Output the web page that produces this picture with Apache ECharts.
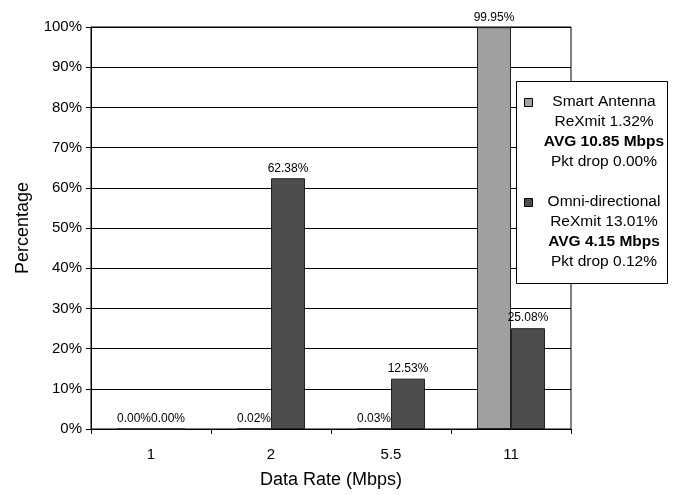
<!DOCTYPE html>
<html><head><meta charset="utf-8">
<script src="https://cdn.jsdelivr.net/npm/echarts@6/dist/echarts.min.js"></script>
<style>html,body{margin:0;padding:0;background:#fff}#c{width:673px;height:495px}</style>
</head><body><div id="c"></div>
<script>
var categories = ['1', '2', '5.5', '11'];
var smartAntenna = [0.00, 0.02, 0.03, 99.95];
var omniDirectional = [0.00, 62.38, 12.53, 25.08];
var yTicks = [0, 10, 20, 30, 40, 50, 60, 70, 80, 90, 100];
var legendSmart = ['Smart Antenna', 'ReXmit 1.32%', 'AVG 10.85 Mbps', 'Pkt drop 0.00%'];
var legendOmni = ['Omni-directional', 'ReXmit 13.01%', 'AVG 4.15 Mbps', 'Pkt drop 0.12%'];

var FONT = 'Liberation Sans, Arial, sans-serif';
var chart = echarts.init(document.getElementById('c'));

function legendBlock(lines, color, top) {
  var els = [{
    type: 'rect', z: 101, shape: {x: 524.5, y: top - 3.5, width: 8, height: 8},
    style: {fill: color, stroke: '#000', lineWidth: 1}
  }];
  lines.forEach(function (t, i) {
    els.push({
      type: 'text', z: 101, x: 604, y: top + i * 19.8,
      style: {text: t, fill: '#000', font: (i === 2 ? 'bold ' : '') + '15.5px ' + FONT,
        textAlign: 'center', textVerticalAlign: 'middle'}
    });
  });
  return els;
}

var labelOpt = {show: true, position: 'top', distance: 4, fontSize: 12, fontFamily: FONT, color: '#000',
  formatter: function (p) { return p.value.toFixed(2) + '%'; }};

chart.setOption({
  animation: false,
  grid: {left: 91, right: 102, top: 27, bottom: 66, show: true, borderColor: '#000', borderWidth: 1},
  xAxis: {
    type: 'category', data: categories,
    name: 'Data Rate (Mbps)', nameLocation: 'middle', nameGap: 42,
    nameTextStyle: {fontSize: 18, fontFamily: FONT, color: '#000'},
    axisLine: {lineStyle: {color: '#000'}},
    axisTick: {show: true, length: 5, lineStyle: {color: '#000'}},
    axisLabel: {fontSize: 15, fontFamily: FONT, color: '#000', margin: 18}
  },
  yAxis: {
    type: 'value', min: 0, max: 100, interval: 10,
    name: 'Percentage', nameLocation: 'middle', nameGap: 59,
    nameTextStyle: {fontSize: 18, fontFamily: FONT, color: '#000'},
    axisLine: {show: true, lineStyle: {color: '#000'}},
    axisTick: {show: true, length: 5, lineStyle: {color: '#000'}},
    axisLabel: {fontSize: 15, fontFamily: FONT, color: '#000', margin: 9,
      formatter: function (v) { return yTicks.indexOf(v) >= 0 ? v + '%' : ''; }},
    splitLine: {show: true, lineStyle: {color: '#000', width: 1}}
  },
  series: [
    {name: 'Smart Antenna', type: 'bar', data: smartAntenna, barWidth: 34, barGap: '0%',
      itemStyle: {color: '#a0a0a0', borderColor: '#222', borderWidth: 1}, label: labelOpt},
    {name: 'Omni-directional', type: 'bar', data: omniDirectional, barWidth: 34,
      itemStyle: {color: '#4d4d4d', borderColor: '#222', borderWidth: 1}, label: labelOpt}
  ],
  graphic: [{
    type: 'rect', z: 100, shape: {x: 516.5, y: 81.5, width: 151, height: 202},
    style: {fill: '#ffffff', stroke: '#000', lineWidth: 1}
  }].concat(legendBlock(legendSmart, '#a0a0a0', 102)).concat(legendBlock(legendOmni, '#4d4d4d', 202))
});
</script></body></html>
